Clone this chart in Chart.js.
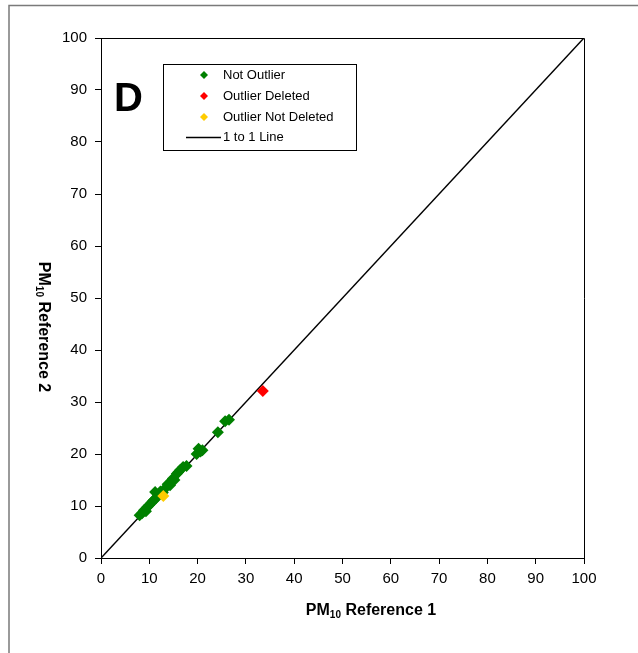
<!DOCTYPE html>
<html>
<head>
<meta charset="utf-8">
<script src="https://cdn.jsdelivr.net/npm/chart.js@4/dist/chart.umd.min.js"></script>
<style>
  html, body { margin: 0; padding: 0; background: #fff; }
  canvas { display: block; }
</style>
</head>
<body>
<canvas id="pmChart" width="638" height="653"></canvas>
<script>
// PM10 reference sampler pairs (ug/m3)
const notOutlierX = [8.0, 8.5, 8.9, 9.3, 9.6, 10.0, 10.3, 10.7, 11.0, 11.4, 11.2, 11.8, 12.3, 12.8, 13.4, 13.8, 14.3, 14.6, 14.9, 15.2, 15.7, 16.0, 16.4, 17.0, 17.7, 19.8, 20.2, 20.6, 21.0, 24.2, 25.7, 26.5];
const notOutlierY = [8.2, 8.6, 9.2, 9.0, 9.8, 10.2, 10.5, 10.9, 11.2, 11.5, 12.7, 12.1, 12.8, 12.6, 13.5, 14.2, 14.0, 14.8, 15.3, 15.0, 16.2, 16.5, 16.9, 17.5, 17.7, 20.0, 21.0, 20.5, 20.7, 24.2, 26.3, 26.6];
const deletedX = [33.5];
const deletedY = [32.1];
const notDeletedX = [12.9];
const notDeletedY = [11.9];
const oneToOneX = [0, 100];
const oneToOneY = [0, 100];
const axisTicks = [0, 10, 20, 30, 40, 50, 60, 70, 80, 90, 100];

const toPoints = (xs, ys) => xs.map((x, i) => ({ x, y: ys[i] }));

const FONT = '"Liberation Sans", Arial, Helvetica, sans-serif';

// frame, plot box, panel letter, legend and subscripted axis titles
const decorations = {
  id: 'decorations',
  afterDraw(chart) {
    const ctx = chart.ctx;
    const a = chart.chartArea;
    ctx.save();

    // outer frame
    ctx.strokeStyle = '#7a7a7a';
    ctx.lineWidth = 1.5;
    ctx.beginPath();
    ctx.moveTo(9, 653);
    ctx.lineTo(9, 5.5);
    ctx.lineTo(638, 5.5);
    ctx.stroke();

    // top and right sides of the plot box
    ctx.strokeStyle = '#000';
    ctx.lineWidth = 1;
    ctx.beginPath();
    ctx.moveTo(a.left, a.top + 0.5);
    ctx.lineTo(a.right + 0.5, a.top + 0.5);
    ctx.lineTo(a.right + 0.5, a.bottom);
    ctx.stroke();

    // panel letter
    ctx.fillStyle = '#000';
    ctx.font = 'bold 40px ' + FONT;
    ctx.textAlign = 'left';
    ctx.textBaseline = 'alphabetic';
    ctx.fillText('D', 114, 111);

    // legend
    const bx = 163, by = 64, bw = 193, bh = 86;
    ctx.fillStyle = '#fff';
    ctx.fillRect(bx, by, bw, bh);
    ctx.strokeStyle = '#000';
    ctx.lineWidth = 1;
    ctx.strokeRect(bx + 0.5, by + 0.5, bw, bh);
    ctx.font = '13px ' + FONT;
    ctx.textBaseline = 'middle';
    const rows = [75, 96, 117, 137.5];
    chart.data.datasets.forEach((ds, i) => {
      const y = rows[i];
      if (ds.type === 'line') {
        ctx.strokeStyle = ds.borderColor;
        ctx.lineWidth = 1.5;
        ctx.beginPath();
        ctx.moveTo(186, y);
        ctx.lineTo(221, y);
        ctx.stroke();
      } else {
        ctx.fillStyle = ds.backgroundColor;
        ctx.beginPath();
        ctx.moveTo(204, y - 4);
        ctx.lineTo(208, y);
        ctx.lineTo(204, y + 4);
        ctx.lineTo(200, y);
        ctx.closePath();
        ctx.fill();
      }
      ctx.fillStyle = '#000';
      ctx.fillText(ds.label, 223, y);
    });

    // axis titles with subscript
    const drawTitle = (main, sub, rest, cx, cy, rot) => {
      ctx.save();
      ctx.translate(cx, cy);
      ctx.rotate(rot);
      const big = 'bold 16px ' + FONT, small = 'bold 10px ' + FONT;
      ctx.font = big;
      const w1 = ctx.measureText(main).width;
      const w3 = ctx.measureText(rest).width;
      ctx.font = small;
      const w2 = ctx.measureText(sub).width;
      let x = -(w1 + w2 + w3) / 2;
      ctx.textAlign = 'left';
      ctx.textBaseline = 'alphabetic';
      ctx.fillStyle = '#000';
      ctx.font = big;
      ctx.fillText(main, x, 6);
      x += w1;
      ctx.font = small;
      ctx.fillText(sub, x, 9);
      x += w2;
      ctx.font = big;
      ctx.fillText(rest, x, 6);
      ctx.restore();
    };
    drawTitle('PM', '10', ' Reference 1', 371, 609, 0);
    drawTitle('PM', '10', ' Reference 2', 45, 327, Math.PI / 2);

    ctx.restore();
  }
};

const axis = (fit) => ({
  type: 'linear',
  min: 0,
  max: 100,
  afterBuildTicks: (scale) => { scale.ticks = axisTicks.map(v => ({ value: v })); },
  afterFit: fit,
  ticks: {
    color: '#000',
    font: { family: FONT, size: 15 },
  },
  grid: {
    drawOnChartArea: false,
    color: '#000',
    tickColor: '#000',
    tickLength: 6,
    lineWidth: 1,
  },
  border: { display: true, color: '#000', width: 1 },
  title: { display: false },
});

const xAxis = axis((s) => { s.height = 95; });
xAxis.ticks.padding = 6;
const yAxis = axis((s) => { s.width = 101; });
yAxis.ticks.padding = 8;

new Chart(document.getElementById('pmChart'), {
  type: 'scatter',
  data: {
    datasets: [
      {
        label: 'Not Outlier',
        data: toPoints(notOutlierX, notOutlierY),
        backgroundColor: '#008000',
        borderColor: '#008000',
        pointStyle: 'rectRot',
        pointRadius: 6,
        borderWidth: 0,
        order: 1,
      },
      {
        label: 'Outlier Deleted',
        data: toPoints(deletedX, deletedY),
        backgroundColor: '#ff0000',
        borderColor: '#ff0000',
        pointStyle: 'rectRot',
        pointRadius: 6,
        borderWidth: 0,
        order: 1,
      },
      {
        label: 'Outlier Not Deleted',
        data: toPoints(notDeletedX, notDeletedY),
        backgroundColor: '#ffcc00',
        borderColor: '#ffcc00',
        pointStyle: 'rectRot',
        pointRadius: 6,
        borderWidth: 0,
        order: 0,
      },
      {
        type: 'line',
        label: '1 to 1 Line',
        data: toPoints(oneToOneX, oneToOneY),
        borderColor: '#000',
        borderWidth: 1.5,
        pointRadius: 0,
        showLine: true,
        fill: false,
        order: 2,
      },
    ],
  },
  options: {
    responsive: false,
    animation: false,
    layout: { padding: { left: 0, top: 38, right: 54, bottom: 0 } },
    scales: { x: xAxis, y: yAxis },
    plugins: {
      legend: { display: false },
      tooltip: { enabled: false },
    },
  },
  plugins: [decorations],
});
</script>
</body>
</html>
